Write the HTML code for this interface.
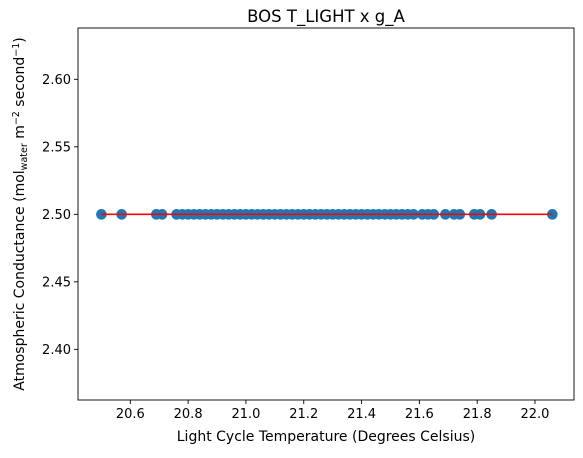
<!DOCTYPE html>
<html><head><meta charset="utf-8"><style>
body{margin:0;background:#fff;font-family:"Liberation Sans","DejaVu Sans",sans-serif}
</style></head><body>
<svg id="chart" width="583" height="453" font-family="DejaVu Sans, Liberation Sans, sans-serif">
</svg>
<script>
const xValues=[20.50,20.57,20.69,20.71,20.76,20.78,20.80,20.82,20.84,20.86,20.88,20.90,20.92,20.94,20.96,20.98,21.00,21.02,21.04,21.06,21.08,21.10,21.12,21.14,21.16,21.18,21.20,21.22,21.24,21.26,21.28,21.30,21.32,21.34,21.36,21.38,21.40,21.42,21.44,21.46,21.48,21.50,21.52,21.54,21.56,21.58,21.61,21.63,21.65,21.69,21.72,21.74,21.79,21.81,21.85,22.06];
const yValues=xValues.map(()=>2.5);
const xTicks=[20.6,20.8,21.0,21.2,21.4,21.6,21.8,22.0];
const xTickLabels=["20.6","20.8","21.0","21.2","21.4","21.6","21.8","22.0"];
const yTicks=[2.40,2.45,2.50,2.55,2.60];
const yTickLabels=["2.40","2.45","2.50","2.55","2.60"];
const fitLine=[2.5,2.5];
const NS="http://www.w3.org/2000/svg";
const svg=document.getElementById('chart');
const L=78,R=574,T=28,B=400,X0=20.419,X1=22.135,Y0=2.3625,Y1=2.638;
const sx=v=>L+(v-X0)/(X1-X0)*(R-L);
const sy=v=>B-(v-Y0)/(Y1-Y0)*(B-T);
function mk(tag,at,txt){const e=document.createElementNS(NS,tag);for(const k in at)e.setAttribute(k,at[k]);if(txt!==undefined)e.textContent=txt;svg.appendChild(e);return e;}
const pts=document.createElementNS(NS,'g');


svg.appendChild(pts);
xValues.forEach((x,i)=>{const c=document.createElementNS(NS,'circle');
c.setAttribute('cx',sx(x));c.setAttribute('cy',sy(yValues[i]));c.setAttribute('r',5.3);c.setAttribute('fill','#1f77b4');


pts.appendChild(c);});
const xmin=Math.min(...xValues),xmax=Math.max(...xValues);
const ln=mk('line',{x1:sx(xmin),x2:sx(xmax),y1:sy(fitLine[0]),y2:sy(fitLine[1]),stroke:'#ff0000','stroke-width':1.6});


const fr=mk('rect',{x:L,y:T,width:R-L,height:B-T,fill:'none',stroke:'#000','stroke-width':0.9});


xTicks.forEach((t,i)=>{mk('line',{x1:sx(t),x2:sx(t),y1:B,y2:B+4,stroke:'#000','stroke-width':0.9});
const e=mk('text',{x:sx(t),y:B+18,'text-anchor':'middle','font-size':13},xTickLabels[i]);

});
yTicks.forEach((t,i)=>{mk('line',{x1:L-4,x2:L,y1:sy(t),y2:sy(t),stroke:'#000','stroke-width':0.9});
const e=mk('text',{x:L-7,y:sy(t)+4.5,'text-anchor':'end','font-size':13},yTickLabels[i]);

});
const ti=mk('text',{x:(L+R)/2,y:22,'text-anchor':'middle','font-size':16.5},'BOS T_LIGHT x g_A');


const xl=mk('text',{x:(L+R)/2,y:441,'text-anchor':'middle','font-size':14},'Light Cycle Temperature (Degrees Celsius)');


const yl=document.createElementNS(NS,'text');
yl.setAttribute('transform','translate(24,214) rotate(-90)');
yl.setAttribute('text-anchor','middle');yl.setAttribute('font-size',14);
yl.innerHTML='Atmospheric Conductance (mol<tspan font-size="9.5" dy="3">water</tspan><tspan dy="-3"> m</tspan><tspan font-size="9.5" dy="-5">−2</tspan><tspan dy="5"> second</tspan><tspan font-size="9.5" dy="-5">−1</tspan><tspan dy="5">)</tspan>';


svg.appendChild(yl);
</script>
</body></html>
